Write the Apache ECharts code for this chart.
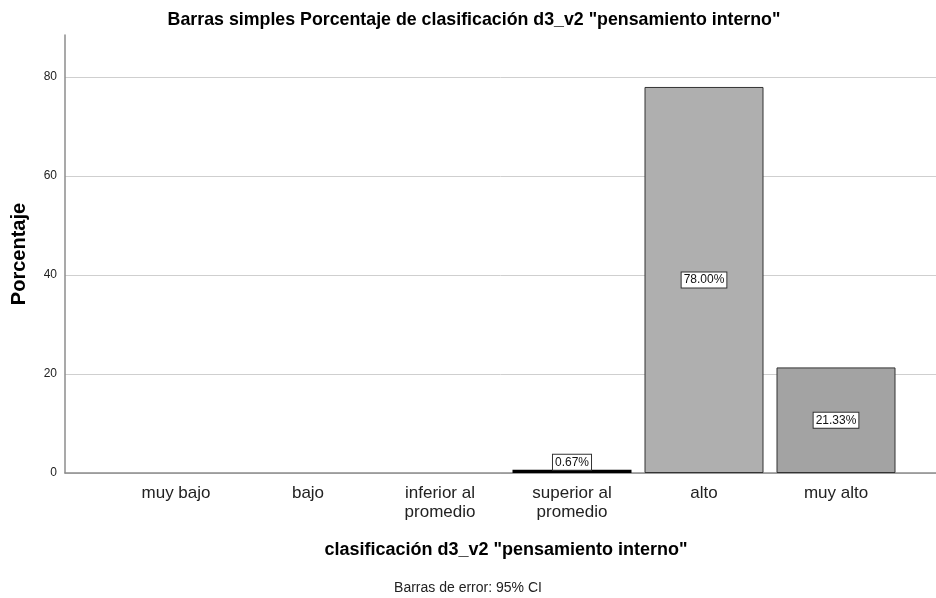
<!DOCTYPE html>
<html><head><meta charset="utf-8">
<script src="https://cdn.jsdelivr.net/npm/echarts@6/dist/echarts.min.js"></script>
<style>html,body{margin:0;padding:0;background:#fff}#c{width:936px;height:598px}</style>
</head><body><div id="c"></div>
<script>
const categories = ['muy bajo', 'bajo', 'inferior al\npromedio', 'superior al\npromedio', 'alto', 'muy alto'];
const percentages = [0, 0, 0, 0.67, 78.00, 21.33];
const barColors = ['#000000', '#000000', '#000000', '#000000', '#afafaf', '#a3a3a3'];
const yTicks = [0, 20, 40, 60, 80];
const yMax = 88.5;

const font = '"Liberation Sans", Arial, sans-serif';
const chart = echarts.init(document.getElementById('c'));
chart.setOption({
  animation: false,
  backgroundColor: '#fff',
  title: {
    text: 'Barras simples Porcentaje de clasificación d3_v2 "pensamiento interno"',
    left: 469, top: 6, textAlign: 'center',
    textStyle: { fontFamily: font, fontSize: 17.8, fontWeight: 'bold', color: '#000' }
  },
  graphic: [{
    type: 'text', left: 'center', top: 581,
    style: { text: 'Barras de error: 95% CI', font: '14px ' + font, fill: '#222' }
  }],
  grid: [
    { left: 65, right: 0, top: 35, bottom: 125 },
    { left: 110, width: 792, top: 35, bottom: 125 }
  ],
  xAxis: [
    { gridIndex: 0, type: 'value', min: 0, max: 1, axisLine: { show: true, lineStyle: { color: '#8c8c8c', width: 1.5 } },
      axisTick: { show: false }, axisLabel: { show: false }, splitLine: { show: false } },
    { gridIndex: 1, type: 'category', data: categories,
      axisLine: { show: false }, axisTick: { show: false },
      axisLabel: { fontFamily: font, fontSize: 17, color: '#222', margin: 11, lineHeight: 19, interval: 0 },
      name: 'clasificación d3_v2 "pensamiento interno"', nameLocation: 'middle', nameGap: 68,
      nameTextStyle: { fontFamily: font, fontSize: 18, fontWeight: 'bold', color: '#000' } }
  ],
  yAxis: [
    { gridIndex: 0, type: 'value', min: 0, max: yMax, interval: 20,
      axisLine: { show: true, lineStyle: { color: '#8c8c8c', width: 1.5 } },
      axisTick: { show: false },
      axisLabel: { fontFamily: font, fontSize: 12, color: '#222', margin: 8,
        formatter: v => yTicks.includes(v) ? String(v) : '' },
      splitLine: { show: true, lineStyle: { color: ['#cfcfcf', '#cfcfcf', '#cfcfcf', '#cfcfcf', '#cfcfcf', 'rgba(0,0,0,0)'], width: 1 } },
      name: 'Porcentaje', nameLocation: 'middle', nameGap: 36,
      nameTextStyle: { fontFamily: font, fontSize: 20, fontWeight: 'bold', color: '#000' } },
    { gridIndex: 1, type: 'value', min: 0, max: yMax, show: false }
  ],
  series: [{
    type: 'bar', xAxisIndex: 1, yAxisIndex: 1, barWidth: 119,
    data: percentages.map((v, i) => ({
      value: v,
      itemStyle: v === 0 ? { color: 'rgba(0,0,0,0)', borderWidth: 0 } : { color: barColors[i], borderColor: v < 5 ? '#000' : '#333', borderWidth: v < 5 ? 1.5 : 1 },
      label: v === 0 ? { show: false } : (v < 5 ? { show: true, position: 'top', distance: 0 } : { show: true, position: 'inside' })
    })),
    label: {
      show: true,
      formatter: p => p.value.toFixed(2) + '%',
      fontFamily: font, fontSize: 12, color: '#111',
      backgroundColor: '#fff', borderColor: '#333', borderWidth: 1, padding: [2, 2, 1, 2]
    }
  }]
});
</script></body></html>
